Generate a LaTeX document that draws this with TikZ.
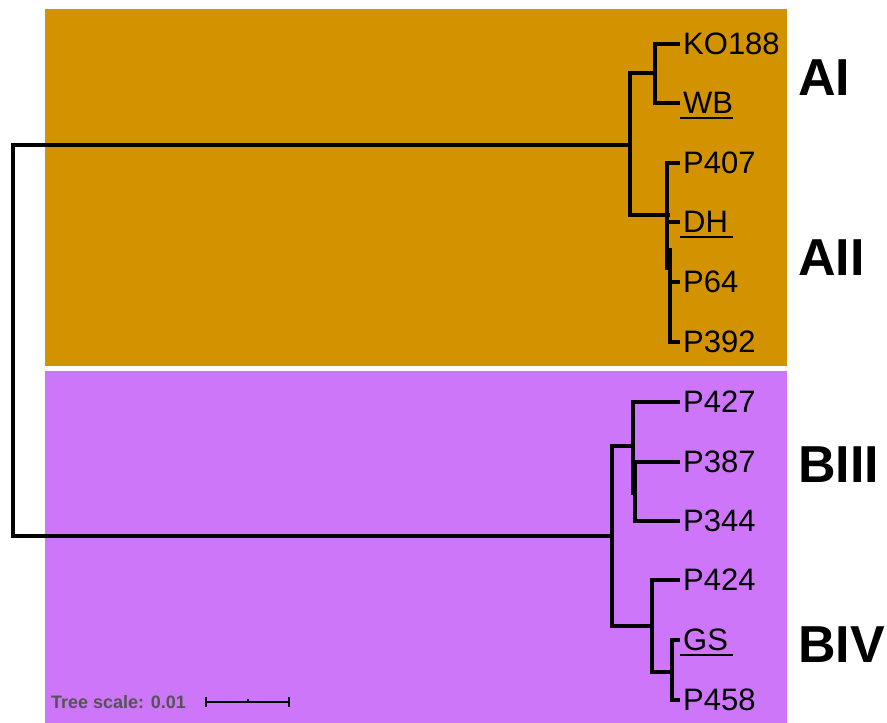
\documentclass[tikz,border=0pt]{standalone}
\usepackage{fontspec}
\setmainfont{Liberation Sans}
\definecolor{orangebg}{RGB}{211,147,0}
\definecolor{purplebg}{RGB}{205,118,250}
\definecolor{scalegray}{RGB}{84,84,84}
\begin{document}
\begin{tikzpicture}[x=1pt,y=-1pt,
  branch/.style={line width=3.6pt,line cap=rect,line join=miter},
  leaf/.style={anchor=west,inner sep=0pt,font=\fontsize{31pt}{31pt}\selectfont},
  clade/.style={anchor=west,inner sep=0pt,font=\fontsize{52pt}{52pt}\selectfont\bfseries},
  uline/.style={line width=1.6pt}]
\useasboundingbox (0,0) rectangle (887,723);
\fill[white] (0,0) rectangle (887,723);
% backgrounds
\fill[orangebg] (45,9) rectangle (787,366);
\fill[purplebg] (45,371) rectangle (787,723);
% leaf labels
\node[leaf] (ko) at (683,44) {KO188};
\node[leaf] (wb) at (683,103) {WB};
\node[leaf] (p407) at (683,163) {P407};
\node[leaf] (dh) at (683,222) {DH};
\node[leaf] (p64) at (683,282) {P64};
\node[leaf] (p392) at (683,342) {P392};
\node[leaf] (p427) at (683,402) {P427};
\node[leaf] (p387) at (683,462) {P387};
\node[leaf] (p344) at (683,521) {P344};
\node[leaf] (p424) at (683,580) {P424};
\node[leaf] (gs) at (683,640) {GS};
\node[leaf] (p458) at (683,700) {P458};
% underlines
\foreach \n in {wb,dh,gs}{
  \draw[uline] ([shift={(-3,4)}]\n.south west) -- ([shift={(50,4)}]\n.south west);
}
% clade labels
\node[clade] (lAI) at (798,78) {AI};
\node[clade] (lAII) at (798,258) {AII};
\node[clade] (lBIII) at (798,465) {BIII};
\node[clade] (lBIV) at (798,645) {BIV};
% internal nodes
\coordinate (r) at (13,340);
\coordinate (nA) at (630,145);
\coordinate (nB) at (612,536);
\coordinate (nAI) at (655,73);
\coordinate (nAII) at (668,215);
\coordinate (nAIIa) at (667,268);
\coordinate (nAIIb) at (670,250);
\coordinate (nBIII) at (633,446);
\coordinate (nBIIIa) at (633,493);
\coordinate (nBIIIb) at (635,462);
\coordinate (nBIV) at (652,626);
\coordinate (nBIVa) at (652,672);
\coordinate (nGS) at (672,672);
\coordinate (nGSa) at (672,700);
% tree
\draw[branch] (nA) -| (r) |- (nB);
\draw[branch] (nAI) -| (630,145) |- (nAII);
\draw[branch] ([xshift=-5pt]ko.west) -| (nAI) |- ([xshift=-5pt]wb.west);
\draw[branch] ([xshift=-5pt]p407.west) -| (nAIIa);
\draw[branch] ([xshift=-5pt]dh.west) -- (667,222);
\draw[branch] (nAIIb) |- ([xshift=-5pt]p392.west);
\draw[branch] ([xshift=-5pt]p64.west) -- (670,282);
\draw[branch] (nBIII) -| (nB) |- (nBIV);
\draw[branch] ([xshift=-5pt]p427.west) -| (nBIIIa);
\draw[branch] (nBIIIb) |- ([xshift=-5pt]p344.west);
\draw[branch] ([xshift=-5pt]p387.west) -- (nBIIIb);
\draw[branch] ([xshift=-5pt]p424.west) -| (nBIVa) -- (nGS);
\draw[branch] ([xshift=-5pt]gs.west) -| (nGSa) -- ([xshift=-5pt]p458.west);
% scale bar
\node[anchor=west,inner sep=0pt,text=scalegray,font=\fontsize{18pt}{18pt}\selectfont\bfseries] (ts) at (51,702) {Tree scale: 0.01};
\coordinate (sb1) at (206,702);
\coordinate (sb2) at (289,702);
\draw[line width=1.5pt] (sb1) -- (sb2);
\draw[line width=1.5pt] ([yshift=-5pt]sb1) -- ([yshift=5pt]sb1);
\draw[line width=1.5pt] ([yshift=-5pt]sb2) -- ([yshift=5pt]sb2);
\draw[line width=1.2pt] (248,699) -- (248,702);
\end{tikzpicture}
\end{document}
